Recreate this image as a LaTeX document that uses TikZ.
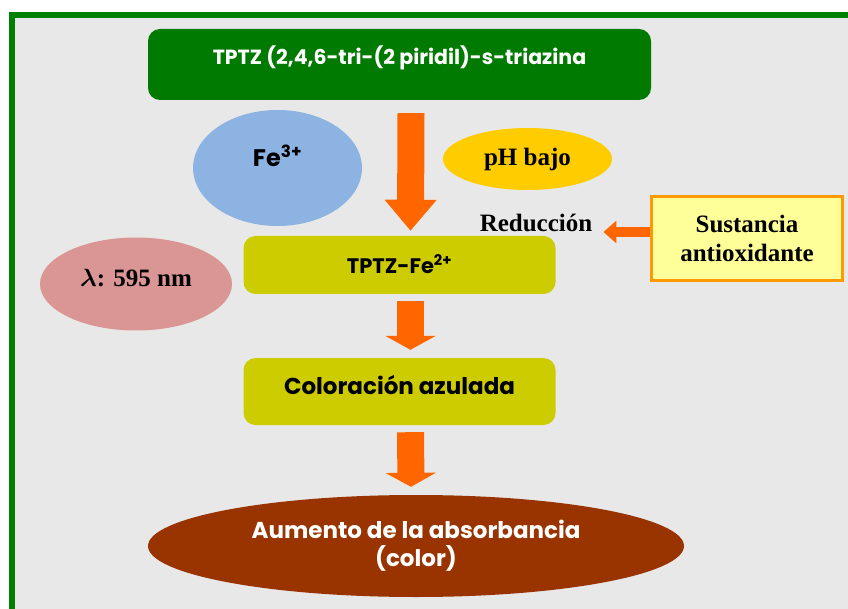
\documentclass[tikz,border=0pt]{standalone}
\usepackage{fontspec}
\usepackage{amsmath}
\usetikzlibrary{arrows.meta,shapes.geometric,positioning,calc}
\newfontfamily\gothic{Poppins}
\newfontfamily\antiqua{Liberation Serif}
\definecolor{framegreen}{HTML}{008000}
\definecolor{tptzgreen}{HTML}{007A00}
\definecolor{bggray}{HTML}{E8E8E8}
\definecolor{feblue}{HTML}{8DB3E2}
\definecolor{phyellow}{HTML}{FFCC00}
\definecolor{arrowor}{HTML}{FF6600}
\definecolor{sustyellow}{HTML}{FFFF99}
\definecolor{sustorange}{HTML}{FF9900}
\definecolor{olivebox}{HTML}{CCCC00}
\definecolor{lampink}{HTML}{D99694}
\definecolor{aumbrown}{HTML}{993300}
\newcommand\liftup[2]{\raisebox{#1}[\height][\depth]{#2}}

\begin{document}
\begin{tikzpicture}[x=1pt,y=-1pt,
  % inner sep=2pt,
  node distance=200pt,
  box/.style={rounded corners=12pt,inner sep=0pt,text=black,
    font=\gothic\bfseries\fontsize{23}{27}\selectfont},
  blob/.style={ellipse,inner sep=0pt},
  serif/.style={font=\antiqua\bfseries\fontsize{25}{29}\selectfont},
  bigarrow/.style={draw=arrowor,line width=27pt,-{Triangle[width=50pt,length=#1]}},
  smallarrow/.style={draw=arrowor,line width=10pt,-{Triangle[width=22pt,length=13pt]}}]
\useasboundingbox (0,0) rectangle (848,609);
\clip (0,0) rectangle (848,609);
\fill[white] (0,0) rectangle (848,609);
\draw[framegreen,line width=6pt,fill=bggray] (12,15) rectangle (880,640);
\node[box,fill=tptzgreen,text=white,minimum width=503pt,minimum height=71pt,
  font=\gothic\bfseries\fontsize{20.5}{25}\selectfont] (tptz) at (399.5,64.5)
  {\liftup{7pt}{TPTZ (2,4,6-tri-(2 piridil)-s-triazina}};
\node[box,fill=olivebox,minimum width=312pt,minimum height=58pt,
  font=\gothic\bfseries\fontsize{21}{25}\selectfont] (fe2)
  [below of=tptz,node distance=200.5pt] {\liftup{1pt}{TPTZ-Fe\textsuperscript{2+}}};
\node[box,fill=olivebox,minimum width=312pt,minimum height=67pt] (col)
  [below of=fe2,node distance=126.5pt] {\liftup{6pt}{Coloración azulada}};
\node[blob,fill=aumbrown,minimum width=536pt,minimum height=102pt,text=white,align=center,
  font=\gothic\bfseries\fontsize{23}{28}\selectfont] (aum) at (416,546)
  {Aumento de la absorbancia\\(color)};
\node[blob,fill=feblue,minimum width=169pt,minimum height=116pt,
  font=\gothic\bfseries\fontsize{24}{28}\selectfont] (fe3) at (277.5,168)
  {\liftup{12pt}{Fe\textsuperscript{3+}}};
\node[blob,fill=phyellow,minimum width=169pt,minimum height=62pt,serif] (ph) at (527.5,159) {pH bajo};
\node[serif,inner sep=0pt] (red) at (536,223) {Reducción};
\node[draw=sustorange,line width=3pt,fill=sustyellow,minimum width=191pt,minimum height=84pt,
  inner sep=0pt,align=center,serif] (sust) at (747,238.5) {Sustancia\\antioxidante};
\node[blob,fill=lampink,minimum width=192pt,minimum height=93pt,serif] (lam) at (136,284)
  {\liftup{6pt}{$\boldsymbol{\lambda}$: 595 nm}};
\draw[bigarrow=31pt] ([xshift=11.5pt,yshift=-13pt]tptz.south) -- ([xshift=11pt,yshift=5pt]fe2.north);
\draw[bigarrow=14pt] ([xshift=11pt,yshift=-7pt]fe2.south) -- ([xshift=11pt,yshift=8pt]col.north);
\draw[bigarrow=14pt] ([xshift=11pt,yshift=-7pt]col.south) -- ([xshift=-5pt,yshift=8pt]aum.north);
\draw[smallarrow] ([yshift=6.5pt]sust.west) -- ($(red.east |- sust.west)+(11pt,6.5pt)$);
\end{tikzpicture}
\end{document}
